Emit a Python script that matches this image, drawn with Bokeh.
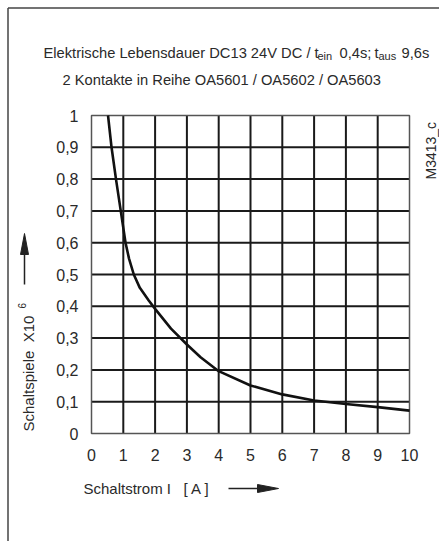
import math
from bokeh.plotting import figure
from bokeh.models import FixedTicker, Range1d
from bokeh.core.properties import value
from bokeh.embed import file_html
from bokeh.resources import INLINE

# ---- data ----
current_a = [0.52, 0.63, 0.77, 0.92, 1.07, 1.18, 1.33, 1.52, 1.8, 2.0, 2.5, 3.0, 3.43, 4.0, 5.0, 6.0, 7.0, 8.0, 9.0, 10.0]
cycles_1e6 = [1.0, 0.9, 0.8, 0.7, 0.6, 0.55, 0.5, 0.458, 0.418, 0.392, 0.33, 0.28, 0.24, 0.196, 0.151, 0.123, 0.104, 0.093, 0.083, 0.072]

x_ticks = [0, 1, 2, 3, 4, 5, 6, 7, 8, 9, 10]
x_tick_labels = ["0", "1", "2", "3", "4", "5", "6", "7", "8", "9", "10"]
y_ticks = [0, 0.1, 0.2, 0.3, 0.4, 0.5, 0.6, 0.7, 0.8, 0.9, 1.0]
y_tick_labels = ["0", "0,1", "0,2", "0,3", "0,4", "0,5", "0,6", "0,7", "0,8", "0,9", "1"]

FONT = "Liberation Sans"
TXT = "#2a2a2a"
NB = "\u00a0"

W, H = 439, 541
# chart box in pixels: x 0..10 -> 91..409, y 0..1 -> 433..115
X0P, XS = 91.0, 31.8
Y0P, YS = 433.0, 318.0

def dx(px):
    return (px - X0P) / XS

def dy(py):
    return (Y0P - py) / YS

p = figure(width=W, height=H, output_backend="svg", toolbar_location=None,
           x_range=Range1d(dx(0), dx(W)), y_range=Range1d(dy(H), dy(0)),
           min_border_left=0, min_border_right=0, min_border_top=0, min_border_bottom=0)
p.outline_line_color = None
p.background_fill_color = "white"
p.border_fill_color = "white"
p.xgrid.visible = False
p.ygrid.visible = False

for ax in (p.xaxis[0], p.yaxis[0]):
    ax.fixed_location = 0
    ax.axis_line_color = None
    ax.major_tick_line_color = None
    ax.minor_tick_line_color = None
    ax.major_label_text_font = FONT
    ax.major_label_text_font_size = "16px"
    ax.major_label_text_color = TXT

p.xaxis[0].ticker = FixedTicker(ticks=x_ticks)
p.xaxis[0].major_label_overrides = {t: l for t, l in zip(x_ticks, x_tick_labels)}
p.xaxis[0].major_label_standoff = 9
p.yaxis[0].ticker = FixedTicker(ticks=y_ticks)
p.yaxis[0].major_label_overrides = {t: l for t, l in zip(y_ticks, y_tick_labels)}
p.yaxis[0].major_label_standoff = 7

# grid (interior lines)
xi = x_ticks[1:-1]
yi = y_ticks[1:-1]
p.segment(x0=xi, y0=[0] * len(xi), x1=xi, y1=[1] * len(xi), line_color="#1a1a1a", line_width=2)
p.segment(x0=[0] * len(yi), y0=yi, x1=[10] * len(yi), y1=yi, line_color="#1a1a1a", line_width=2)
# chart box
p.quad(left=[0], right=[10], bottom=[0], top=[1], fill_color=None, line_color="#555555", line_width=1.5)

# curve
p.line(current_a, cycles_1e6, line_color="#111111", line_width=2.6)

def txt(text, px, py, size="14.7px", angle=0.0, align="left", baseline="alphabetic"):
    p.text(x=[dx(px)], y=[dy(py)], text=[text], text_font=value(FONT), text_font_size=size,
           text_color=TXT, angle=angle, text_align=align, text_baseline=baseline)

# title lines
txt("Elektrische Lebensdauer DC13 24V DC / t", 43, 52)
txt("ein", 317, 55, size="11px")
txt("0,4s;", 339, 52)
txt("t", 374, 52)
txt("aus", 378, 55, size="11px")
txt("9,6s", 401, 52)
txt("2 Kontakte in Reihe OA5601 / OA5602 / OA5603", 62, 79)

# drawing number
txt("M3413_c", 430, 179, size="14px", angle=math.pi / 2, baseline="middle")

# y-axis label with arrow
txt("Schaltspiele" + NB + NB + "X10", 28, 431, size="15px", angle=math.pi / 2, baseline="middle")
txt("6", 21, 308, size="10px", angle=math.pi / 2, baseline="middle")
p.segment(x0=[dx(24)], y0=[dy(284)], x1=[dx(24)], y1=[dy(250)], line_color="#222222", line_width=1.5)
p.patch(x=[dx(24), dx(20), dx(28)], y=[dy(233), dy(254), dy(254)], fill_color="#222222", line_color="#222222", line_width=1)

# x-axis label with arrow
txt("Schaltstrom I" + NB + NB + NB + "[ A ]", 83, 488, size="15px", baseline="middle")
p.segment(x0=[dx(228)], y0=[dy(488)], x1=[dx(262)], y1=[dy(488)], line_color="#222222", line_width=1.5)
p.patch(x=[dx(278), dx(257), dx(257)], y=[dy(488), dy(484), dy(492)], fill_color="#222222", line_color="#222222", line_width=1)

# outer frame (left and top edges visible)
p.segment(x0=[dx(7.5), dx(7.5)], y0=[dy(H + 5), dy(7.5)], x1=[dx(7.5), dx(W + 5)], y1=[dy(7.5), dy(7.5)],
          line_color="#444444", line_width=1.5)

open("out.html", "w").write(file_html(p, INLINE))
